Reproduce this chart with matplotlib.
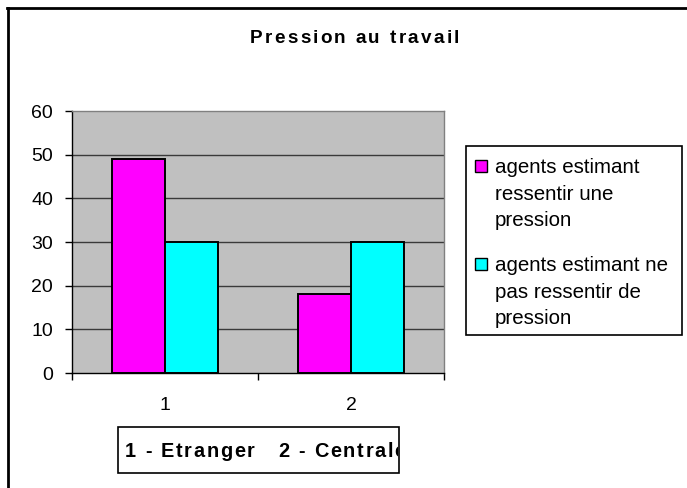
import matplotlib
matplotlib.use("Agg")
import matplotlib.pyplot as plt
from matplotlib.font_manager import FontProperties, findfont, get_font
from matplotlib.patches import Rectangle
from matplotlib.lines import Line2D
from matplotlib.transforms import Bbox, TransformedBbox
import numpy as np

# ---- data ----
categories = ["1", "2"]
series_names = ["agents estimant\nressentir une\npression",
                "agents estimant ne\npas ressentir de\npression"]
series_values = [[49, 18], [30, 30]]
series_colors = ["#FF00FF", "#00FFFF"]
y_ticks = [0, 10, 20, 30, 40, 50, 60]
title_text = "Pression au travail"
xlabel_text = "1 - Etranger   2 - Centrale"

W, H = 687, 488
DPI = 100
fig = plt.figure(figsize=(W / DPI, H / DPI), dpi=DPI)
fig.patch.set_facecolor("white")

FAMILY = "Liberation Sans"


def fx(px):
    return px / W


def fy(py):
    return 1 - py / H


def spaced_text(x_px, baseline_px, s, size, spacing, weight="bold", ha="center", clip=None):
    fp = FontProperties(family=FAMILY, weight=weight, size=size)
    font = get_font(findfont(fp))
    font.set_size(size, DPI)
    advs = [font.load_char(ord(c)).linearHoriAdvance / 65536 for c in s]
    total = sum(advs) + spacing * (len(s) - 1)
    x = x_px - total / 2 if ha == "center" else x_px
    for c, a in zip(s, advs):
        t = fig.text(fx(x), fy(baseline_px), c, fontproperties=fp,
                     ha="left", va="baseline")
        if clip is not None:
            t.set_clip_box(TransformedBbox(Bbox([[fx(clip[0]), fy(clip[3])],
                                                 [fx(clip[2]), fy(clip[1])]]),
                                           fig.transFigure))
            t.set_clip_on(True)
        x += a + spacing


# ---- axes ----
ax_l, ax_r, ax_t, ax_b = 72, 444, 111, 373
ax = fig.add_axes([fx(ax_l), fy(ax_b), fx(ax_r - ax_l), (ax_b - ax_t) / H])
ax.set_facecolor("#C0C0C0")

n = len(series_values)
width = 0.285
x = np.arange(len(categories))
for i, (vals, col) in enumerate(zip(series_values, series_colors)):
    offs = (i - (n - 1) / 2) * width
    ax.bar(x + offs, vals, width=width, color=col, edgecolor="black",
           linewidth=1.4, zorder=3)

ax.set_xlim(-0.5, len(categories) - 0.5)
ax.set_ylim(0, 60)
ax.set_yticks(y_ticks)
ax.set_yticklabels([str(v) for v in y_ticks])
for v in y_ticks[1:-1]:
    ax.axhline(v, color="#3a3a3a", linewidth=1.0, zorder=1)

ax.set_xticks(x)
ax.set_xticklabels(categories)
ax.set_xticks(np.arange(len(categories) + 1) - 0.5, minor=True)
ax.tick_params(axis="x", which="major", length=0, pad=17)
ax.tick_params(axis="x", which="minor", length=5, width=1, direction="out", color="black")
ax.tick_params(axis="y", which="major", length=5, width=1, direction="out", pad=8.6)
for lab in ax.get_xticklabels() + ax.get_yticklabels():
    lab.set_fontfamily(FAMILY)
    lab.set_fontsize(14)

for side in ["left", "bottom"]:
    ax.spines[side].set_color("black")
    ax.spines[side].set_linewidth(1.0)
for side in ["top", "right"]:
    ax.spines[side].set_color("#808080")
    ax.spines[side].set_linewidth(1.0)

# ---- figure border (left & top) ----
fig.add_artist(Line2D([fx(8), fx(8)], [fy(8), fy(H + 5)], color="black", linewidth=2,
                      transform=fig.transFigure))
fig.add_artist(Line2D([fx(7), fx(W + 5)], [fy(8), fy(8)], color="black", linewidth=2,
                      transform=fig.transFigure))

# ---- title ----
spaced_text(354.5, 43, title_text, 13.6, 2.3)

# ---- x label box ----
bx0, by0, bx1, by1 = 118, 427, 399, 473
fig.add_artist(Rectangle((fx(bx0), fy(by1)), fx(bx1 - bx0), (by1 - by0) / H,
                         facecolor="white", edgecolor="black", linewidth=1.2,
                         transform=fig.transFigure))
spaced_text(125, 457, xlabel_text, 14.3, 1.75, ha="left", clip=(bx0, by0, bx1 - 1, by1))

# ---- legend (manual, Excel style) ----
lx0, ly0, lx1, ly1 = 466, 146, 682, 335
fig.add_artist(Rectangle((fx(lx0), fy(ly1)), fx(lx1 - lx0), (ly1 - ly0) / H,
                         facecolor="white", edgecolor="black", linewidth=1.2,
                         transform=fig.transFigure))
entry_baselines = [173, 271]
line_h = 26.7
for name, col, base in zip(series_names, series_colors, entry_baselines):
    fig.add_artist(Rectangle((fx(475), fy(base - 1)), fx(12), 12 / H,
                             facecolor=col, edgecolor="black", linewidth=1.0,
                             transform=fig.transFigure))
    for j, line in enumerate(name.split("\n")):
        fig.text(fx(495), fy(base + j * line_h), line, family=FAMILY, fontsize=14.8,
                 ha="left", va="baseline")

fig.savefig("out.png", dpi=DPI)
